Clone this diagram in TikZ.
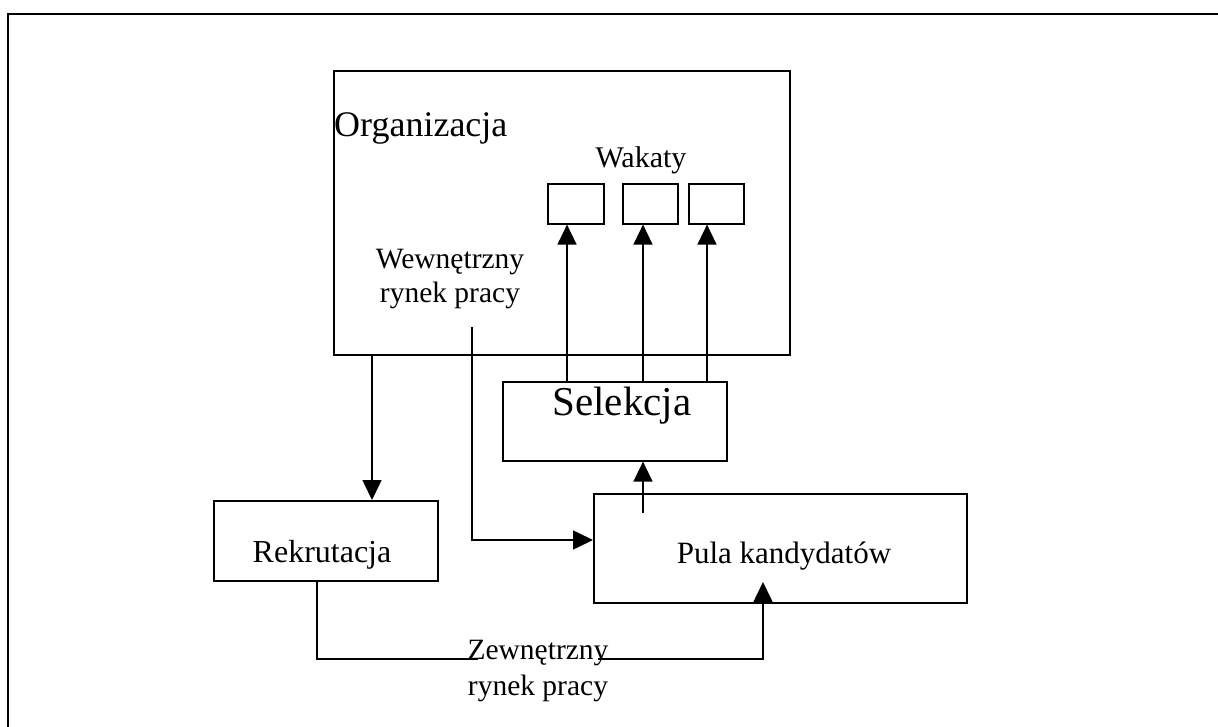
\documentclass[tikz,border=0pt]{standalone}
\usepackage{fontspec}
\setmainfont{Liberation Serif}
\usetikzlibrary{arrows.meta}
\begin{document}
\begin{tikzpicture}[x=1pt,y=-1pt,
  box/.style={draw, line width=1.6pt, inner sep=0pt, anchor=north west},
  lbl/.style={inner sep=0pt},
  wire/.style={line width=1.6pt},
  arr/.style={wire, -{Triangle[length=20pt,width=19pt]}}]
\useasboundingbox (0,0) rectangle (1218,727);

% page frame (top and left edges)
\draw[line width=1.8pt] (8,727) -- (8,14) -- (1218,14);

% boxes
\node[box, minimum width=456pt, minimum height=284pt] (org)  at (333,70)  {};
\node[box, minimum width=56pt,  minimum height=40pt]  (wak1) at (547,183) {};
\node[box, minimum width=55pt,  minimum height=40pt]  (wak2) at (622,183) {};
\node[box, minimum width=55pt,  minimum height=40pt]  (wak3) at (688,183) {};
\node[box, minimum width=224pt, minimum height=79pt]  (sel)  at (502,381) {};
\node[box, minimum width=224pt, minimum height=80pt]  (rek)  at (213,500) {};
\node[box, minimum width=373pt, minimum height=109pt] (pula) at (593,493) {};

% labels (two-line labels are placed by the baseline of their last line)
\node[lbl, anchor=base west, font=\fontsize{36}{40}\selectfont] (orgname) at (334,137) {Organizacja};
\node[lbl, anchor=base, font=\fontsize{30}{34}\selectfont] (wakname) at (641,168) {Wakaty};
\node[lbl, anchor=base, align=center, font=\fontsize{29.5}{34}\selectfont] (wewn) at (450,302) {Wewnętrzny\\rynek pracy};
\node[lbl, anchor=base, font=\fontsize{41}{46}\selectfont] (selname) at (622,415) {Selekcja};
\node[lbl, anchor=base, font=\fontsize{32}{36}\selectfont] (rekname) at (322,562) {Rekrutacja};
\node[lbl, anchor=base, font=\fontsize{31}{36}\selectfont] (pulaname) at (784,563) {Pula kandydatów};

% helper coordinates for connector positions
\coordinate (xrek) at (372,0);
\coordinate (xa) at (567,0);
\coordinate (xb) at (643,0);
\coordinate (xc) at (707,0);
\coordinate (wstart) at (472,327);
\coordinate (ywin) at (0,540);
\coordinate (pstart) at (643,513);
\coordinate (xout) at (317,0);
\coordinate (yout) at (0,659);
\coordinate (pend) at (763,582);

% connectors
\draw[arr] (org.south -| xrek) -- (rek.north -| xrek);
\draw[arr] (sel.north -| xa) -- (wak1.south -| xa);
\draw[arr] (sel.north -| xb) -- (wak2.south -| xb);
\draw[arr] (sel.north -| xc) -- (wak3.south -| xc);
\draw[arr] (wstart) |- (pula.west |- ywin);
\draw[arr] (pstart) -- (sel.south -| pstart);
\draw[arr] (rek.south -| xout) -- (xout |- yout) -- (pend |- yout) -- (pend);

% label on the external connector
\node[lbl, anchor=base, align=center, fill=white, inner xsep=-10pt, font=\fontsize{29.5}{36}\selectfont] (zewn) at (538,695) {Zewnętrzny\\rynek pracy};
\end{tikzpicture}
\end{document}
